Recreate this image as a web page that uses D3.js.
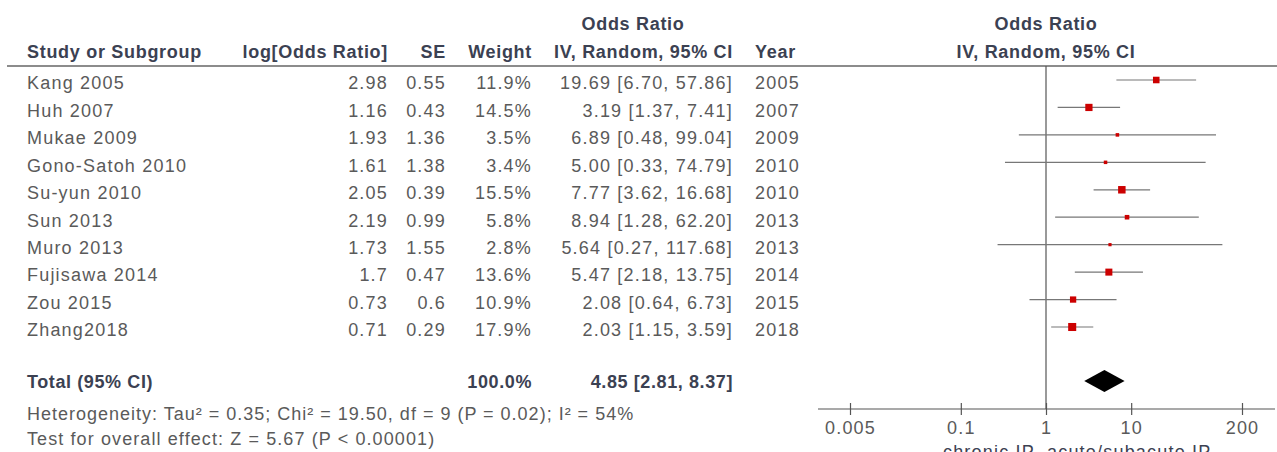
<!DOCTYPE html>
<html>
<head>
<meta charset="utf-8">
<script src="https://cdn.jsdelivr.net/npm/d3@7"></script>
<style>
  body { margin: 0; background: #fff; }
  svg { display: block; font-family: "Liberation Sans", Arial, sans-serif; }
  .hd { font-weight: bold; fill: #3b4152; font-size: 18px; letter-spacing: 0.7px; }
  .tx { fill: #5a5a5a; font-size: 18px; letter-spacing: 1.2px; }
  .bd { font-weight: bold; fill: #3b4152; font-size: 18px; letter-spacing: 0.6px; }
</style>
</head>
<body>
<div id="container"></div>
<script>
// data
const studies = ["Kang 2005", "Huh 2007", "Mukae 2009", "Gono-Satoh 2010", "Su-yun 2010",
  "Sun 2013", "Muro 2013", "Fujisawa 2014", "Zou 2015", "Zhang2018"];
const logOR = ["2.98", "1.16", "1.93", "1.61", "2.05", "2.19", "1.73", "1.7", "0.73", "0.71"];
const seVals = ["0.55", "0.43", "1.36", "1.38", "0.39", "0.99", "1.55", "0.47", "0.6", "0.29"];
const weights = [11.9, 14.5, 3.5, 3.4, 15.5, 5.8, 2.8, 13.6, 10.9, 17.9];
const oddsRatio = [19.69, 3.19, 6.89, 5.00, 7.77, 8.94, 5.64, 5.47, 2.08, 2.03];
const ciLow = [6.70, 1.37, 0.48, 0.33, 3.62, 1.28, 0.27, 2.18, 0.64, 1.15];
const ciHigh = [57.86, 7.41, 99.04, 74.79, 16.68, 62.20, 117.68, 13.75, 6.73, 3.59];
const years = [2005, 2007, 2009, 2010, 2010, 2013, 2013, 2014, 2015, 2018];
const total = { or: 4.85, lo: 2.81, hi: 8.37, weight: "100.0%" };
const tickVals = [0.005, 0.1, 1, 10, 200];
const heterogeneity = "Heterogeneity: Tau\u00b2 = 0.35; Chi\u00b2 = 19.50, df = 9 (P = 0.02); I\u00b2 = 54%";
const overall = "Test for overall effect: Z = 5.67 (P < 0.00001)";

const width = 1277;
const height = 452;

const svg = d3.select("#container").append("svg")
  .attr("width", width).attr("height", height);

const f2 = d3.format(".2f");
const ciText = (o, l, h) => `${f2(o)} [${f2(l)}, ${f2(h)}]`;

// scales
const xScale = d3.scaleLog().domain([0.005, 200]).range([850, 1242]);
const yScale = d3.scaleLinear().domain([0, studies.length - 1]).range([80, 327]);
const boxSize = d3.scaleSqrt().domain([0, 20]).range([0, 8.5]);
const textShift = 3; // row text sits a little below the marks

// header
svg.append("text").attr("class", "hd").attr("x", 633).attr("y", 24).attr("dy", "0.35em")
  .attr("text-anchor", "middle").text("Odds Ratio");
svg.append("text").attr("class", "hd").attr("x", 1046).attr("y", 24).attr("dy", "0.35em")
  .attr("text-anchor", "middle").text("Odds Ratio");

const headers = [
  { t: "Study or Subgroup", x: 27, a: "start" },
  { t: "log[Odds Ratio]", x: 388, a: "end" },
  { t: "SE", x: 446, a: "end" },
  { t: "Weight", x: 532, a: "end" },
  { t: "IV, Random, 95% CI", x: 733, a: "end" },
  { t: "Year", x: 755, a: "start" },
  { t: "IV, Random, 95% CI", x: 1046, a: "middle" }
];
svg.selectAll(".hd2").data(headers).enter().append("text")
  .attr("class", "hd").attr("x", d => d.x).attr("y", 52).attr("dy", "0.35em")
  .attr("text-anchor", d => d.a).text(d => d.t);

svg.append("line").attr("x1", 7).attr("x2", width).attr("y1", 66).attr("y2", 66)
  .attr("stroke", "#666").attr("stroke-width", 1.5);

// study rows
const rows = svg.selectAll(".row").data(studies).enter().append("g")
  .attr("transform", (d, i) => `translate(0, ${yScale(i) + textShift})`);
rows.append("text").attr("class", "tx").attr("x", 27).attr("dy", "0.35em").text(d => d);
rows.append("text").attr("class", "tx").attr("x", 388).attr("dy", "0.35em")
  .attr("text-anchor", "end").text((d, i) => logOR[i]);
rows.append("text").attr("class", "tx").attr("x", 446).attr("dy", "0.35em")
  .attr("text-anchor", "end").text((d, i) => seVals[i]);
rows.append("text").attr("class", "tx").attr("x", 532).attr("dy", "0.35em")
  .attr("text-anchor", "end").text((d, i) => weights[i].toFixed(1) + "%");
rows.append("text").attr("class", "tx").attr("x", 733).attr("dy", "0.35em")
  .attr("text-anchor", "end").text((d, i) => ciText(oddsRatio[i], ciLow[i], ciHigh[i]));
rows.append("text").attr("class", "tx").attr("x", 755).attr("dy", "0.35em")
  .text((d, i) => years[i]);

// total row
const totalY = 381;
svg.append("text").attr("class", "bd").attr("x", 27).attr("y", totalY + 1).attr("dy", "0.35em")
  .text("Total (95% CI)");
svg.append("text").attr("class", "bd").attr("x", 532).attr("y", totalY + 1).attr("dy", "0.35em")
  .attr("text-anchor", "end").text(total.weight);
svg.append("text").attr("class", "bd").attr("x", 733).attr("y", totalY + 1).attr("dy", "0.35em")
  .attr("text-anchor", "end").text(ciText(total.or, total.lo, total.hi));
svg.append("text").attr("class", "tx").attr("x", 27).attr("y", 414).attr("dy", "0.35em")
  .style("letter-spacing", "1.0px").text(heterogeneity);
svg.append("text").attr("class", "tx").attr("x", 27).attr("y", 439).attr("dy", "0.35em")
  .style("letter-spacing", "1.1px").text(overall);

// forest plot
const axisY = 409;
svg.append("line").attr("x1", xScale(1)).attr("x2", xScale(1))
  .attr("y1", 66).attr("y2", axisY).attr("stroke", "#555").attr("stroke-width", 1.2);

const plot = svg.append("g");
plot.selectAll(".ci").data(studies).enter().append("line")
  .attr("x1", (d, i) => xScale(ciLow[i])).attr("x2", (d, i) => xScale(ciHigh[i]))
  .attr("y1", (d, i) => yScale(i)).attr("y2", (d, i) => yScale(i))
  .attr("stroke", "#777").attr("stroke-width", 1.2);
plot.selectAll(".box").data(studies).enter().append("rect")
  .attr("x", (d, i) => xScale(oddsRatio[i]) - boxSize(weights[i]) / 2)
  .attr("y", (d, i) => yScale(i) - boxSize(weights[i]) / 2)
  .attr("width", (d, i) => boxSize(weights[i]))
  .attr("height", (d, i) => boxSize(weights[i]))
  .attr("fill", "#cc0000");

// pooled diamond
plot.append("path")
  .attr("d", `M${xScale(total.lo)},${totalY} L${xScale(total.or)},${totalY - 11} L${xScale(total.hi)},${totalY} L${xScale(total.or)},${totalY + 11} Z`)
  .attr("fill", "#000");

// axis
const axis = d3.axisBottom(xScale).tickValues(tickVals)
  .tickFormat(d => String(d)).tickSizeInner(7).tickSizeOuter(0).tickPadding(4);
const ax = svg.append("g").attr("transform", `translate(0, ${axisY})`).call(axis);
ax.select(".domain").remove();
ax.append("line").attr("x1", 818).attr("x2", 1275).attr("stroke", "#555").attr("stroke-width", 1.2);
ax.selectAll(".tick line").attr("y1", -6).attr("y2", 6).attr("stroke", "#555").attr("stroke-width", 1.2);
ax.selectAll(".tick text").attr("y", 12).attr("class", "tx")
  .style("font-family", "'Liberation Sans', Arial, sans-serif").style("font-size", "18px")
  .attr("fill", "#5a5a5a");

svg.append("text").attr("class", "tx").style("fill", "#3b4152")
  .attr("x", 1035).attr("y", 458).attr("text-anchor", "end").text("chronic IP");
svg.append("text").attr("class", "tx").style("fill", "#3b4152")
  .attr("x", 1047).attr("y", 458).text("acute/subacute IP");
</script>
</body>
</html>
